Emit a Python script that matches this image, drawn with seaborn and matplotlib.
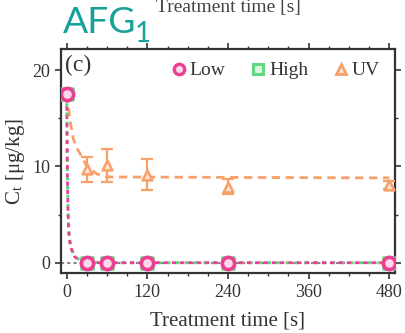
import matplotlib
matplotlib.use("Agg")
import matplotlib.pyplot as plt
from matplotlib.lines import Line2D
import seaborn as sns
import pandas as pd
import numpy as np

# ---- data ----
time_pts = [0, 30, 60, 120, 240, 480]
low_vals = [17.5, 0, 0, 0, 0, 0]
high_vals = [17.5, 0, 0, 0, 0, 0]
uv_vals = [17.5, 9.7, 10.1, 9.15, 7.9, 8.1]
uv_err = [0.0, 1.3, 1.7, 1.6, 0.8, 0.4]

fit_t = [0, 1, 2, 3, 5, 8, 12, 20, 30, 60, 120, 240, 480]
low_fit = [17.5, 9.0, 5.0, 3.2, 2.0, 1.2, 0.6, 0.15, 0.02, 0, 0, 0, 0]
high_fit = [17.5, 9.3, 5.3, 3.4, 2.1, 1.3, 0.7, 0.2, 0.03, 0, 0, 0, 0]
uv_fit_t = [0, 2, 6, 10, 15, 20, 30, 45, 60, 480]
uv_fit = [17.5, 16.4, 14.3, 12.8, 11.9, 11.3, 10.0, 9.2, 8.9, 8.8]

series_names = ["Low", "High", "UV"]
x_ticks = [0, 120, 240, 360, 480]
y_ticks = [0, 10, 20]

c_low = "#ec3f94"
c_high = "#62d680"
c_uv = "#f7a06a"

sns.set_theme(style="ticks")
plt.rcParams["font.family"] = ["Liberation Serif", "DejaVu Serif"]
plt.rcParams["mathtext.fontset"] = "stix"

fig = plt.figure(figsize=(4.05, 3.33), dpi=100)
ax = fig.add_axes([60.8 / 405, 1 - 273.3 / 333, (395 - 60.8) / 405, (273.3 - 49.3) / 333])

ax.axhline(0, color="#888888", ls=(0, (1.5, 1.5)), lw=1.5, zorder=1)

df_low = pd.DataFrame({"t": fit_t, "c": low_fit})
df_high = pd.DataFrame({"t": fit_t, "c": high_fit})
df_uv = pd.DataFrame({"t": uv_fit_t, "c": uv_fit})

sns.lineplot(data=df_uv, x="t", y="c", ax=ax, color=c_uv, lw=2.0,
             linestyle=(0, (3, 2)), zorder=2)
sns.lineplot(data=df_high, x="t", y="c", ax=ax, color=c_high, lw=2.2,
             linestyle=(0, (1.2, 1.8)), zorder=3)
sns.lineplot(data=df_low, x="t", y="c", ax=ax, color=c_low, lw=2.0,
             linestyle=(1.5, (1.5, 1.5)), zorder=4)

ax.errorbar(time_pts[1:], uv_vals[1:], yerr=uv_err[1:], fmt="none",
            ecolor=c_uv, elinewidth=1.6, capsize=4, capthick=1.6, zorder=5)

pts = pd.DataFrame({"t": time_pts, "low": low_vals, "high": high_vals, "uv": uv_vals})
sns.scatterplot(data=pts.iloc[1:], x="t", y="uv", ax=ax, marker="^", s=50,
                facecolor="#fde4d4", edgecolor=c_uv, linewidth=1.8, zorder=6)
sns.scatterplot(data=pts, x="t", y="high", ax=ax, marker="s", s=70,
                facecolor="#d9f5e0", edgecolor=c_high, linewidth=1.8, zorder=7)
sns.scatterplot(data=pts, x="t", y="low", ax=ax, marker="o", s=78,
                facecolor="#fbd8ea", edgecolor=c_low, linewidth=2.6, zorder=8)

ax.set_xlim(-8.8, 488.5)
ax.set_ylim(-1.1, 22.15)
ax.set_xticks(x_ticks)
ax.set_xticks(np.arange(0, 481, 30), minor=True)
ax.set_yticks(y_ticks)
ax.set_yticks([5, 15], minor=True)
ax.tick_params(which="both", direction="out", top=True, right=True,
               colors="#333333", labelcolor="#333333", labelsize=13)
ax.tick_params(which="major", length=4, width=1.2)
ax.tick_params(which="minor", length=2.5, width=1.0)
for s in ax.spines.values():
    s.set_color("#333333")
    s.set_linewidth(1.6)

ax.set_xlabel("Treatment time [s]", fontsize=15, color="#333333", labelpad=8)
ax.set_ylabel(r"C$_\mathregular{t}$ [μg/kg]", fontsize=15, color="#333333", labelpad=4)

ax.text(0.012, 0.975, "(c)", transform=ax.transAxes, ha="left", va="top",
        fontsize=17, color="#333333")

handles = [
    Line2D([], [], marker="o", ls="none", color=c_low, mfc="#fbd8ea", mec=c_low, mew=2.4, ms=7.5),
    Line2D([], [], marker="s", ls="none", color=c_high, mfc="#d9f5e0", mec=c_high, mew=2.2, ms=7.5),
    Line2D([], [], marker="^", ls="none", color=c_uv, mfc="#fde4d4", mec=c_uv, mew=2.0, ms=7.5),
]
leg = ax.legend(handles, series_names, loc="center right", ncol=3, frameon=False,
                fontsize=14, handletextpad=0.3, columnspacing=1.45,
                handlelength=0.5, bbox_to_anchor=(0.955, 0.9045),
                borderaxespad=0, borderpad=0)
for t in leg.get_texts():
    t.set_color("#333333")

fig.text(62.5 / 405, 1 - 33.3 / 333, "AFG", family=["Lato", "DejaVu Sans"],
         fontsize=26.8, color="#16a29a", ha="left", va="baseline")
fig.text(134.5 / 405, 1 - 41.7 / 333, "1", family=["Lato", "DejaVu Sans"],
         fontsize=20, color="#16a29a", ha="left", va="baseline")
fig.text(228 / 405, 1 - 12 / 333, "Treatment time [s]", fontsize=14,
         color="#444444", ha="center", va="baseline")

fig.savefig("out.png", dpi=100)
